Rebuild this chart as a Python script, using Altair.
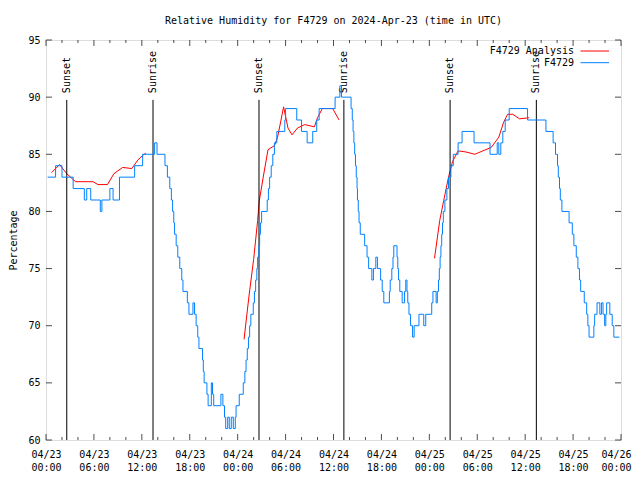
import json
import altair as alt
import pandas as pd

# ---- data (hours since 2024-04-23 00:00 UTC) ----
# F4729 observations: step changes (hour, value)
obs_hours = [0.2, 1.2, 2.0, 3.4, 4.8, 5.1, 5.6, 6.8, 7.0, 8.0, 8.4, 9.2, 11.1, 12.1, 13.6, 13.9,
             14.9, 15.2, 15.5, 15.7, 15.85, 16.0, 16.1, 16.3, 16.5, 16.75, 17.0, 17.15, 17.7, 17.9,
             18.4, 18.6, 18.8, 19.0, 19.15, 19.6, 19.7, 19.8, 20.15, 20.3, 20.7, 20.85, 21.0, 21.9,
             22.15, 22.35, 22.5, 22.75, 22.95, 23.2, 23.45, 23.7, 23.8, 24.2, 24.7, 24.9, 25.05,
             25.2, 25.35, 25.5, 25.65, 25.95, 26.1, 26.25, 26.4, 26.5, 26.65, 26.75, 26.85, 27.0,
             27.7, 27.85, 28.0, 28.2, 28.4, 28.6, 28.9, 29.9, 30.0, 31.4, 32.0, 32.7, 33.4, 33.9,
             34.2, 36.2, 36.8, 37.0, 38.2, 38.35, 38.45, 38.55, 38.65, 38.75, 38.85, 38.95, 39.0,
             39.1, 39.2, 39.35, 39.9, 40.2, 40.4, 40.8, 41.0, 41.3, 41.5, 41.9, 42.1, 42.3, 43.0,
             43.1, 43.3, 43.45, 43.55, 43.95, 44.05, 44.15, 44.3, 44.6, 44.9, 45.05, 45.2, 45.3,
             45.45, 45.65, 45.9, 46.1, 46.7, 47.3, 47.55, 48.3, 48.45, 48.85, 49.0, 49.15, 49.25,
             49.35, 49.45, 49.55, 49.65, 49.75, 49.95, 50.2, 50.4, 50.7, 51.0, 51.6, 52.1, 53.6,
             55.6, 56.5, 56.7, 56.95, 57.2, 57.5, 58.0, 60.3, 62.6, 63.5, 63.8, 64.05, 64.15, 64.3,
             64.4, 64.6, 65.5, 65.9, 66.1, 66.4, 66.6, 66.8, 66.95, 67.4, 67.7, 67.85, 68.0, 68.6,
             68.7, 69.0, 69.35, 69.55, 69.75, 69.95, 70.1, 70.2, 70.6, 70.9, 71.1, 71.8]
obs_values = [83, 84, 83, 82, 81, 82, 81, 80, 81, 82, 81, 83, 84, 85, 86, 85,
              84, 83, 82, 81, 80, 79, 78, 77, 76, 75, 74, 73, 72, 71,
              72, 71, 70, 69, 68, 67, 66, 65, 64, 63, 65, 64, 63, 64,
              63, 62, 61, 62, 61, 62, 61, 62, 63, 64, 65, 66, 67,
              68, 69, 70, 71, 72, 73, 74, 75, 76, 77, 78, 79, 80,
              81, 82, 83, 84, 85, 86, 87, 88, 89, 88, 87, 86, 87, 88,
              89, 90, 91, 90, 89, 88, 87, 86, 85, 84, 83, 82, 81,
              80, 79, 78, 77, 76, 75, 74, 75, 76, 75, 74, 73, 72, 73,
              74, 75, 76, 77, 76, 75, 74, 73, 72, 73, 74, 73, 72,
              71, 70, 69, 70, 71, 70, 71, 72, 73, 72, 73, 74, 75,
              76, 77, 78, 79, 80, 81, 82, 83, 84, 85, 86, 87, 86,
              85, 86, 85, 86, 87, 88, 89, 88, 87, 86, 85, 84, 83, 82,
              81, 80, 79, 78, 77, 76, 75, 74, 73, 72, 71, 70, 69, 70,
              71, 72, 71, 72, 71, 70, 71, 72, 71, 70, 69, 69]

# F4729 Analysis: three 12-hour segments
ana_seg = [1] * 13 + [2] * 20 + [3] * 16
ana_hours = [0.7, 1.7, 2.6, 3.7, 5.9, 6.5, 7.7, 8.5, 9.6, 10.75, 11.5, 12.2, 12.5,
             24.8, 25.4, 26.0, 26.5, 26.7, 27.2, 27.8, 28.6, 29.0, 29.4, 29.75, 30.3, 30.8,
             31.5, 32.4, 33.6, 34.0, 34.6, 35.9, 36.7,
             48.65, 49.3, 49.8, 50.4, 50.9, 51.6, 52.6, 53.7, 54.7, 55.75, 56.7, 57.3, 57.8,
             58.45, 59.3, 60.5]
ana_values = [83.4, 84.1, 83.3, 82.6, 82.6, 82.35, 82.35, 83.3, 83.85, 83.75, 84.5, 84.95, 85.1,
              68.8, 72.5, 75.8, 79.2, 80.9, 83.0, 85.4, 85.75, 86.5, 87.9, 89.15, 87.3, 86.7,
              87.3, 87.6, 87.4, 88.2, 89.0, 89.0, 88.0,
              75.9, 79.2, 80.95, 83.0, 84.35, 85.3, 85.2, 85.0, 85.3, 85.6, 86.5, 87.8, 88.5,
              88.5, 88.1, 88.2]

sun_hours = [2.6, 13.4, 26.67, 37.3, 50.6, 61.4]
sun_labels = ["Sunset", "Sunrise", "Sunset", "Sunrise", "Sunset", "Sunrise"]

x_major = [0, 6, 12, 18, 24, 30, 36, 42, 48, 54, 60, 66, 72]
x_labels = [["04/23", "00:00"], ["04/23", "06:00"], ["04/23", "12:00"], ["04/23", "18:00"],
            ["04/24", "00:00"], ["04/24", "06:00"], ["04/24", "12:00"], ["04/24", "18:00"],
            ["04/25", "00:00"], ["04/25", "06:00"], ["04/25", "12:00"], ["04/25", "18:00"],
            ["04/26", "00:00"]]
x_minor = [2, 4, 8, 10, 14, 16, 20, 22, 26, 28, 32, 34, 38, 40, 44, 46, 50, 52, 56, 58, 62, 64, 68, 70]
y_major = [60, 65, 70, 75, 80, 85, 90, 95]

series_names = ["F4729 Analysis", "F4729"]
series_colors = ["#ff0000", "#0080ff"]

FONT = "DejaVu Sans Mono"

obs_df = pd.DataFrame({"hour": obs_hours, "value": obs_values, "series": "F4729"})
ana_df = pd.DataFrame({"hour": ana_hours, "value": ana_values, "seg": ana_seg,
                       "series": "F4729 Analysis"})
sun_df = pd.DataFrame({"hour": sun_hours, "label": sun_labels})
xmaj_df = pd.DataFrame({"hour": x_major})
xmin_df = pd.DataFrame({"hour": x_minor})
ymaj_df = pd.DataFrame({"value": y_major})

label_expr = json.dumps(x_labels) + "[round(datum.value / 6)]"

xscale = alt.Scale(domain=[0, 72], nice=False, zero=False)
yscale = alt.Scale(domain=[60, 95], nice=False, zero=False)
cscale = alt.Scale(domain=series_names, range=series_colors)

x_enc = alt.X("hour:Q", scale=xscale,
              axis=alt.Axis(values=x_major, labelExpr=label_expr, tickSize=0, domain=False,
                            grid=False, labelFont=FONT, labelFontSize=10, labelColor="black",
                            labelPadding=9, labelLineHeight=13, title=None,
                            labelOverlap=False, labelFlush=False,
                            labelOffset={"condition": {"test": "datum.value >= 72", "value": -5},
                                         "value": 0}))
y_enc = alt.Y("value:Q", scale=yscale,
              axis=alt.Axis(values=y_major, tickSize=0, domain=False, grid=False,
                            labelFont=FONT, labelFontSize=10, labelColor="black",
                            labelPadding=6, title="Percentage", titleFont=FONT,
                            titleFontSize=10, titleFontWeight="normal", titleColor="black",
                            titlePadding=9))

sun_rules = alt.Chart(sun_df).mark_rule(color="black", strokeWidth=1).encode(
    x=alt.X("hour:Q", scale=xscale), y=alt.datum(60), y2=alt.datum(89.76))
sun_text = alt.Chart(sun_df).mark_text(angle=270, align="left", baseline="middle",
                                        font=FONT, fontSize=10, color="black").encode(
    x=alt.X("hour:Q", scale=xscale), y=alt.datum(90.35), text="label:N")

ana_line = alt.Chart(ana_df).mark_line(strokeWidth=1).encode(
    x=x_enc, y=y_enc, color=alt.Color("series:N", scale=cscale, legend=None), detail="seg:N")
obs_line = alt.Chart(obs_df).mark_line(strokeWidth=1, interpolate="step-after").encode(
    x=alt.X("hour:Q", scale=xscale), y=alt.Y("value:Q", scale=yscale),
    color=alt.Color("series:N", scale=cscale, legend=None))

# key (legend) in the top-right corner of the plot
key_layers = []
for i, (name, col) in enumerate(zip(series_names, series_colors)):
    row_y = 11 + 11.7 * i
    key_layers.append(alt.Chart().mark_text(align="right", baseline="middle", font=FONT,
                                            fontSize=10, color="black").encode(
        x=alt.value(528), y=alt.value(row_y), text=alt.value(name)))
    key_layers.append(alt.Chart().mark_rule(color=col, strokeWidth=1).encode(
        x=alt.value(534.5), x2=alt.value(563), y=alt.value(row_y)))

tick_style = dict(color="black", thickness=1)
xt_bot = alt.Chart(xmaj_df).mark_tick(orient="vertical", size=6, yOffset=-3, **tick_style).encode(
    x=alt.X("hour:Q", scale=xscale), y=alt.datum(60))
xt_top = alt.Chart(xmaj_df).mark_tick(orient="vertical", size=6, yOffset=3, **tick_style).encode(
    x=alt.X("hour:Q", scale=xscale), y=alt.datum(95))
xm_bot = alt.Chart(xmin_df).mark_tick(orient="vertical", size=3, yOffset=-1.5, **tick_style).encode(
    x=alt.X("hour:Q", scale=xscale), y=alt.datum(60))
xm_top = alt.Chart(xmin_df).mark_tick(orient="vertical", size=3, yOffset=1.5, **tick_style).encode(
    x=alt.X("hour:Q", scale=xscale), y=alt.datum(95))
yt_left = alt.Chart(ymaj_df).mark_tick(orient="horizontal", size=6, xOffset=3, **tick_style).encode(
    y=alt.Y("value:Q", scale=yscale), x=alt.datum(0))
yt_right = alt.Chart(ymaj_df).mark_tick(orient="horizontal", size=6, xOffset=-3, **tick_style).encode(
    y=alt.Y("value:Q", scale=yscale), x=alt.datum(72))

chart = alt.layer(
    ana_line, sun_rules, sun_text, obs_line,
    xt_bot, xt_top, xm_bot, xm_top, yt_left, yt_right, *key_layers
).properties(
    width=575, height=400,
    title=alt.TitleParams("Relative Humidity for F4729 on 2024-Apr-23 (time in UTC)",
                          font=FONT, fontSize=10, fontWeight="normal", color="black",
                          anchor="middle", offset=9),
    autosize=alt.AutoSizeParams(type="none"),
    padding={"left": 38, "top": 32, "right": 11, "bottom": 32},
).configure_view(stroke="black", strokeWidth=1).configure(background="white")

chart.save("out.html", embed_options={"renderer": "svg", "actions": False})
